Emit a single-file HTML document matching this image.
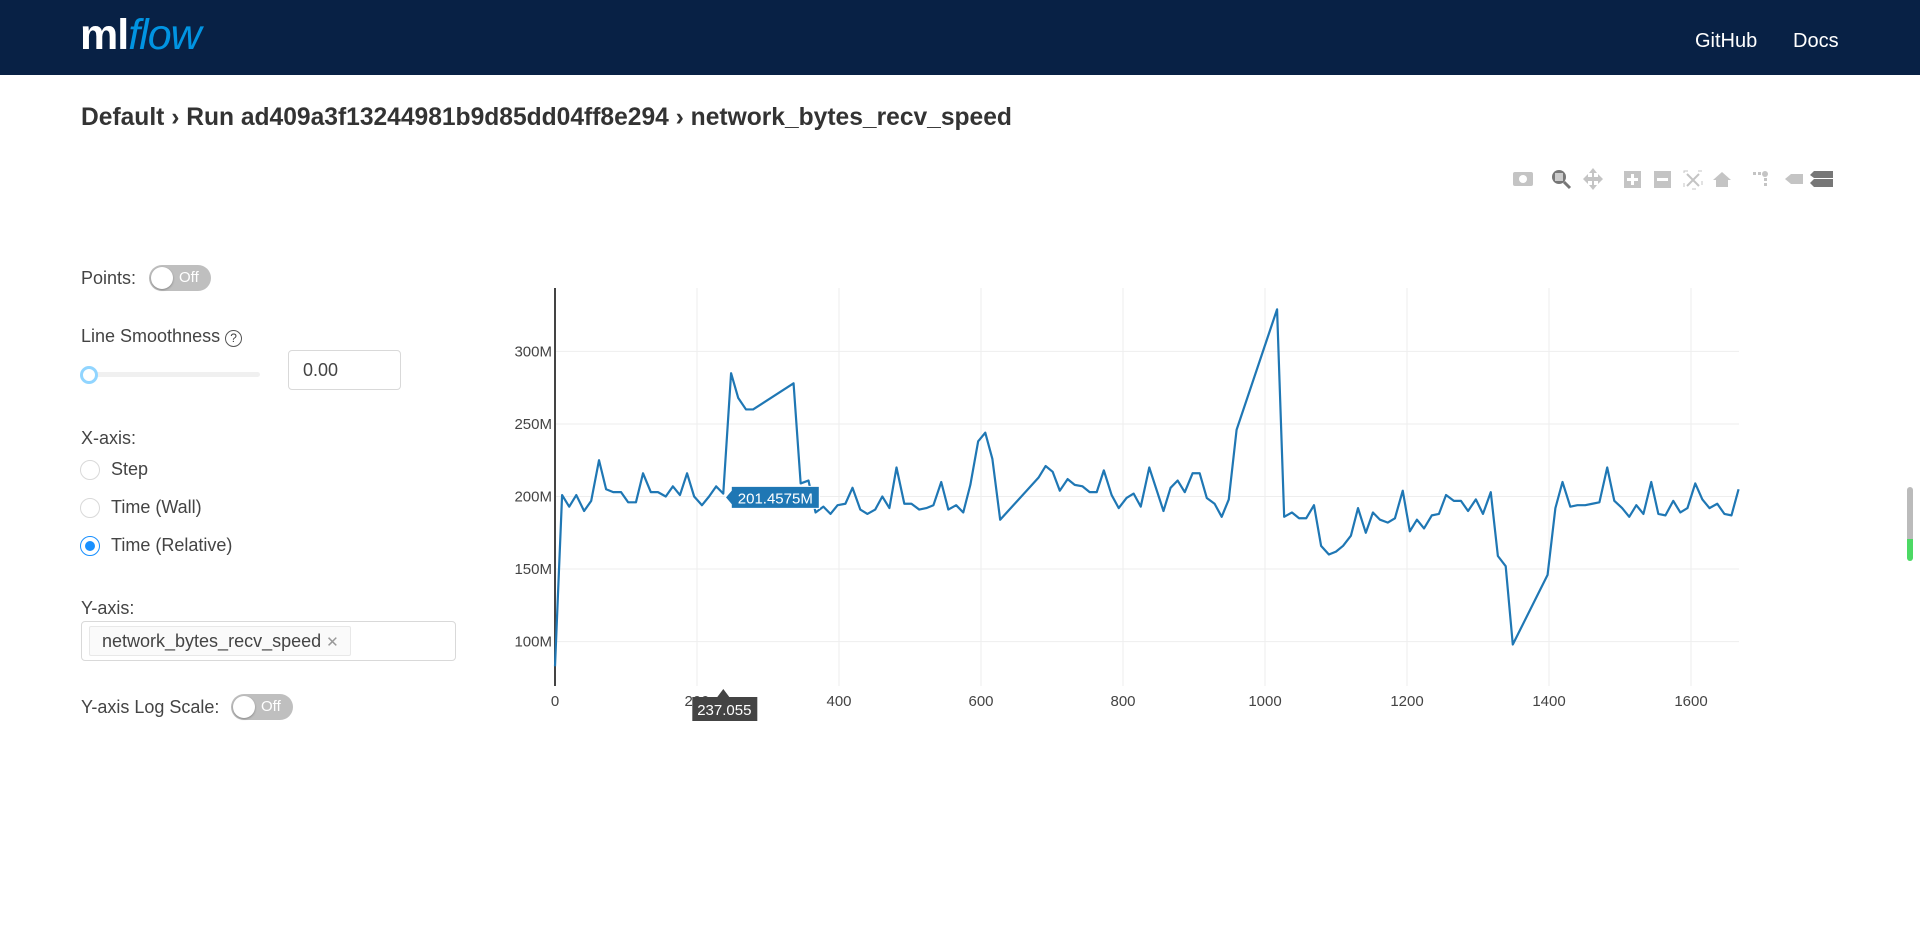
<!DOCTYPE html>
<html><head><meta charset="utf-8">
<style>
body{margin:0;width:1920px;height:942px;overflow:hidden;background:#fff;font-family:"Liberation Sans",sans-serif;color:#333;position:relative}
.hdr{position:absolute;left:0;top:0;width:1920px;height:75px;background:#082145}
.abs{position:absolute}
.lbl{font-size:18px;color:#444}
.tog{position:absolute;width:62px;height:26px;border-radius:13px;background:#bfbfbf}
.tog .k{position:absolute;left:2px;top:2px;width:22px;height:22px;border-radius:50%;background:#fff;box-shadow:0 1px 2px rgba(0,0,0,.3)}
.tog .t{position:absolute;left:30px;top:4px;font-size:15px;color:#fff}
.radio{position:absolute;width:18px;height:18px;border:1px solid #d9d9d9;border-radius:50%;background:#fff}
</style></head><body>
<div class="hdr">
 <div class="abs" style="left:80px;top:11px;font-size:43px;font-weight:bold;color:#fff;letter-spacing:-1px">ml<span style="color:#0194e2;font-style:italic;font-weight:normal">flow</span></div>
 <div class="abs" style="left:1695px;top:30px;font-size:20px;color:#fff">GitHub</div>
 <div class="abs" style="left:1793px;top:30px;font-size:20px;color:#fff">Docs</div>
</div>
<div class="abs" style="left:81px;top:104px;font-size:24.6px;font-weight:bold;color:#333"><span>Default</span> › <span>Run ad409a3f13244981b9d85dd04ff8e294</span> › <span>network_bytes_recv_speed</span></div>

<svg class="abs" style="left:1505px;top:166px" width="330" height="26">
 <g fill="#c4c4c4">
 <rect x="8" y="6" width="20" height="14" rx="2"/>
 <circle cx="18" cy="13" r="4" fill="#fff"/>
 <circle cx="54" cy="11" r="7" fill="#777"/><rect x="50" y="7" width="8" height="8" fill="#ccc"/><line x1="59" y1="16" x2="65" y2="22" stroke="#777" stroke-width="3"/>
 <path d="M88 2 L92 7 H89 V11 H93 V8 L98 13 L93 18 V15 H89 V19 H92 L88 24 L84 19 H87 V15 H83 V18 L78 13 L83 8 V11 H87 V7 H84 Z"/>
 <rect x="119" y="5" width="17" height="17"/><rect x="122" y="12" width="11" height="3" fill="#fff"/><rect x="126" y="8" width="3" height="11" fill="#fff"/>
 <rect x="149" y="5" width="17" height="17"/><rect x="152" y="12" width="11" height="3" fill="#fff"/>
 <rect x="179" y="5" width="18" height="18" fill="none" stroke="#c4c4c4" stroke-dasharray="4 10"/><path d="M182 8 L194 20 M194 8 L182 20" stroke="#c4c4c4" stroke-width="2"/>
 <path d="M208 14 L217 6 L226 14 H223 V21 H211 V14 Z"/>
 <rect x="248" y="6" width="3" height="3"/><rect x="253" y="6" width="3" height="3"/><circle cx="260" cy="8" r="3"/><rect x="259" y="12" width="3" height="3"/><rect x="259" y="17" width="3" height="3"/>
 <path d="M280 13 L286 8 H298 V18 H286 Z"/>
 <path d="M305 9 L309 5 H328 V12 H309 Z M305 17 L309 13 H328 V21 H309 Z" fill="#777"/>
 </g>
</svg>

<div class="abs lbl" style="left:81px;top:268px">Points:</div>
<div class="tog" style="left:149px;top:265px"><div class="k"></div><div class="t">Off</div></div>
<div class="abs lbl" style="left:81px;top:326px">Line Smoothness <span style="display:inline-block;width:15px;height:15px;border:1.5px solid #555;border-radius:50%;font-size:12px;text-align:center;line-height:15px">?</span></div>
<div class="abs" style="left:81px;top:372px;width:179px;height:5px;background:#f0f0f0;border-radius:3px"></div>
<div class="abs" style="left:80px;top:366px;width:12px;height:12px;border:3px solid #91d5ff;border-radius:50%;background:#fff"></div>
<div class="abs" style="left:288px;top:350px;width:111px;height:38px;border:1px solid #d9d9d9;border-radius:4px;font-size:18px;line-height:38px;text-indent:14px;color:#444">0.00</div>
<div class="abs lbl" style="left:81px;top:428px">X-axis:</div>
<div class="radio" style="left:80px;top:460px"></div><div class="abs lbl" style="left:111px;top:459px">Step</div>
<div class="radio" style="left:80px;top:498px"></div><div class="abs lbl" style="left:111px;top:497px">Time (Wall)</div>
<div class="radio" style="left:80px;top:536px;border-color:#1890ff"><div style="position:absolute;left:4px;top:4px;width:10px;height:10px;border-radius:50%;background:#1890ff"></div></div><div class="abs lbl" style="left:111px;top:535px">Time (Relative)</div>
<div class="abs lbl" style="left:81px;top:598px">Y-axis:</div>
<div class="abs" style="left:81px;top:621px;width:373px;height:38px;border:1px solid #d9d9d9;border-radius:4px">
 <div class="abs" style="left:7px;top:4px;width:260px;height:28px;background:#fafafa;border:1px solid #e8e8e8;border-radius:2px;font-size:18px;line-height:28px;text-indent:12px;color:#444">network_bytes_recv_speed <span style="color:#999;font-size:15px">✕</span></div>
</div>
<div class="abs lbl" style="left:81px;top:697px">Y-axis Log Scale:</div>
<div class="tog" style="left:231px;top:694px"><div class="k"></div><div class="t">Off</div></div>
<div class="abs" style="left:1907px;top:487px;width:6px;height:74px;border-radius:3px;background:linear-gradient(#bbb 70%,#4cd964 70%)"></div>

<svg id="chart" class="abs" style="left:0;top:0" width="1920" height="942"></svg>
<script>
const xs=[0,10,20,30,41,51,62,72,82,93,103,114,124,135,145,156,166,176,186,196,207,217,227,237,248,258,269,279,336,346,357,367,378,388,398,409,419,430,440,451,461,471,481,492,502,513,523,533,544,554,565,575,585,596,606,616,627,681,691,701,711,722,732,743,753,763,773,784,794,805,815,825,837,857,867,877,887,898,908,918,929,939,949,960,1017,1027,1038,1048,1058,1069,1079,1090,1100,1110,1121,1131,1142,1152,1162,1173,1183,1194,1204,1214,1224,1235,1245,1255,1266,1276,1286,1297,1307,1318,1328,1339,1349,1398,1409,1419,1430,1440,1451,1461,1471,1482,1492,1503,1513,1523,1533,1544,1554,1564,1575,1585,1595,1606,1616,1626,1637,1647,1657,1667];
const ys=[83,201,193,201,190,197,225,205,203,203,196,196,216,203,203,200,207,201,216,200,194,200,207,202,285,268,260,260,278,209,211,189,193,188,194,195,206,191,188,191,200,192,220,195,195,191,192,194,210,191,194,189,208,238,244,226,184,213,221,217,204,212,208,207,203,203,218,201,192,199,202,193,220,190,206,211,203,216,216,199,195,186,198,246,329,186,189,185,185,194,166,160,162,166,173,192,175,189,184,182,185,204,176,184,178,187,188,201,197,197,190,198,188,203,159,152,98,146,192,210,193,194,194,195,196,220,197,192,186,194,188,210,188,187,197,189,192,209,198,192,195,188,187,205];
const xTicks=[0,200,400,600,800,1000,1200,1400,1600];
const yTicks=[100,150,200,250,300];
const yTickLabels=["100M","150M","200M","250M","300M"];
const hoverX=237.055, hoverY=201.4575;
const L=555,R=1739,T=288,B=686;
const X=v=>L+(v)*(1136/1600);
const Y=v=>641.6-(v-100)*1.451;
const svg=document.getElementById('chart');const NS='http://www.w3.org/2000/svg';
function mk(t,a,p){const e=document.createElementNS(NS,t);for(const k in a)e.setAttribute(k,a[k]);(p||svg).appendChild(e);return e;}
xTicks.forEach(t=>{if(t>0){const g=mk('line',{x1:X(t),x2:X(t),y1:T,y2:B,stroke:'#eee','stroke-width':1});

}
const tx=mk('text',{x:X(t),y:706,'text-anchor':'middle','font-size':15,fill:'#444','font-family':'Liberation Sans'});tx.textContent=t;

});
yTicks.forEach((t,i)=>{const g=mk('line',{x1:L,x2:R,y1:Y(t),y2:Y(t),stroke:'#eee','stroke-width':1});


const tx=mk('text',{x:L-3,y:Y(t)+5,'text-anchor':'end','font-size':15,fill:'#444','font-family':'Liberation Sans'});tx.textContent=yTickLabels[i];

});
const ax=mk('line',{x1:L,x2:L,y1:T,y2:B,stroke:'#444','stroke-width':2});


const line=mk('polyline',{points:xs.map((x,i)=>X(x)+','+Y(ys[i])).join(' '),fill:'none',stroke:'#1f77b4','stroke-width':2.2,'stroke-linejoin':'round'});


const hx=X(hoverX),hy=Y(hoverY);
const tt=mk('g',{});


mk('path',{d:`M${hx+2} ${hy+3} L${hx+8} ${hy-4} V${hy-8} H${hx+96} V${hy+14} H${hx+8} V${hy+10} Z`,fill:'#1f77b4',stroke:'#fff','stroke-width':1},tt);
const t1=mk('text',{x:hx+52,y:hy+9,'text-anchor':'middle','font-size':15,fill:'#fff','font-family':'Liberation Sans'},tt);t1.textContent=hoverY+'M';
const tx2=mk('g',{});


mk('path',{d:`M${hx} 689 L${hx+6} 697 H${hx+34} V721 H${hx-31} V697 H${hx-6} Z`,fill:'#444'},tx2);
const t2=mk('text',{x:hx+1,y:715,'text-anchor':'middle','font-size':15,fill:'#fff','font-family':'Liberation Sans'},tx2);t2.textContent=hoverX;
</script>
</body></html>
